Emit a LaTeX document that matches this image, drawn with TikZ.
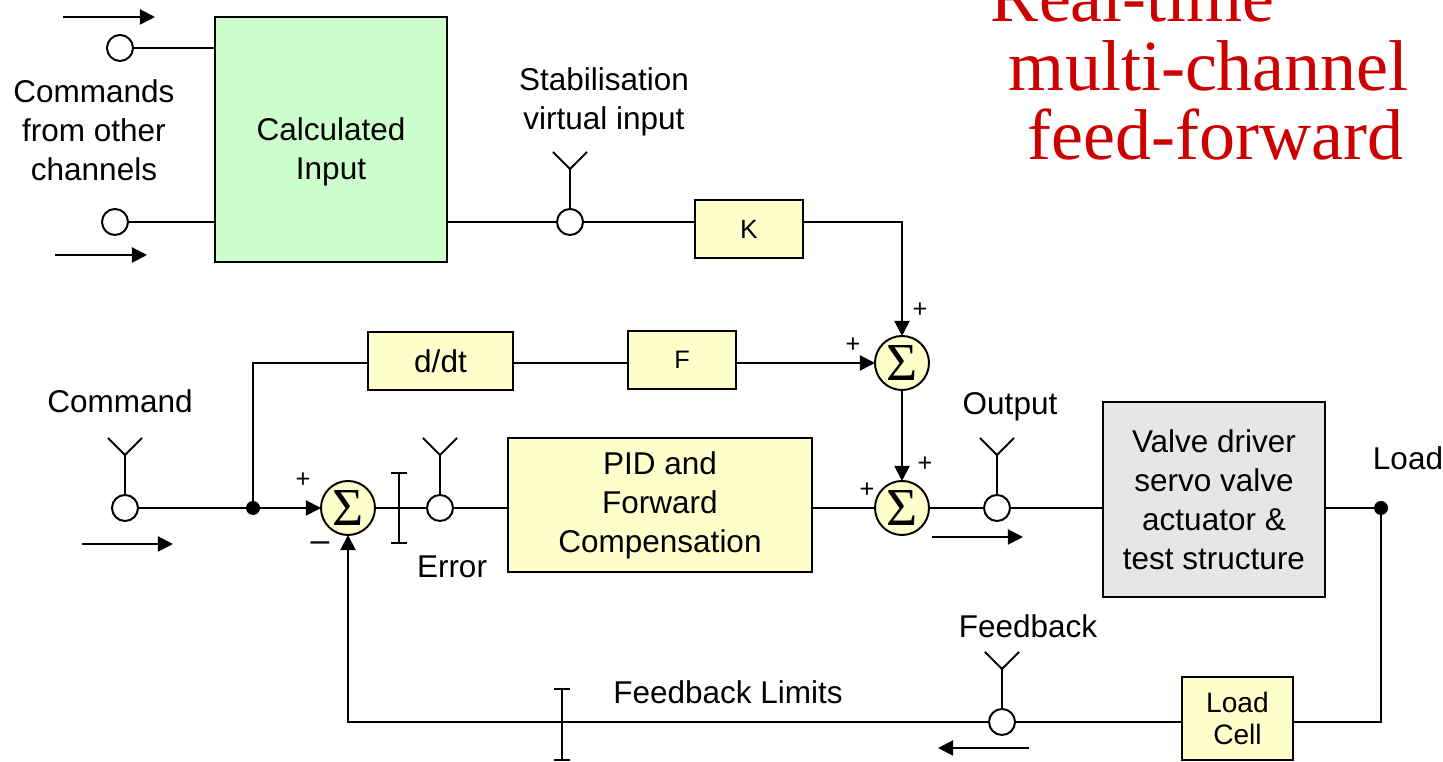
\documentclass[tikz,border=0pt]{standalone}
\usepackage{fontspec}
\setmainfont{Liberation Sans}
\newfontfamily\titlefont{Liberation Serif}
\usepackage{tikz}
\usetikzlibrary{arrows.meta}
\definecolor{boxyellow}{HTML}{FFFFCC}
\definecolor{boxgreen}{HTML}{CCFFCC}
\definecolor{boxgrey}{HTML}{E6E6E6}
\definecolor{titlered}{HTML}{CC0000}

\begin{document}
\begin{tikzpicture}[x=0.0125cm,y=-0.0125cm,line width=0.7pt,font=\fontsize{11.2}{13.9}\selectfont]
\useasboundingbox (0,0) rectangle (1443,762);

\tikzstyle{block}=[draw,outer sep=0pt,fill=boxyellow,align=center,inner sep=0pt]
\tikzstyle{summer}=[draw,circle,outer sep=0pt,fill=boxyellow,minimum size=0.675cm,inner sep=0pt,font=\titlefont\fontsize{19}{19}\selectfont]
\tikzstyle{term}=[draw,circle,outer sep=0pt,fill=white,minimum size=0.325cm,inner sep=0pt]
\tikzstyle{tapdot}=[fill,circle,outer sep=0pt,minimum size=0.175cm,inner sep=0pt]
\tikzstyle{arr}=[-{Triangle[length=0.19cm,width=0.19cm]}]
\tikzstyle{limit}=[{Bar[width=0.2cm]}-{Bar[width=0.2cm]}]
\tikzstyle{signlbl}=[inner sep=0pt,font=\fontsize{9}{9}\selectfont]

   %title
\node (title1) [anchor=base west,inner sep=0pt,text=titlered,font=\titlefont\fontsize{25.6}{24.5}\selectfont] at (990,22) {Real-time};
\node (title2) [anchor=base west,inner sep=0pt,text=titlered,font=\titlefont\fontsize{25.6}{24.5}\selectfont] at (1008,91) {multi-channel};
\node (title3) [anchor=base west,inner sep=0pt,text=titlered,font=\titlefont\fontsize{25.6}{24.5}\selectfont] at (1027,160) {feed-forward};

    %blocks
\node (calc) [block,fill=boxgreen,minimum width=2.9cm,minimum height=3.0625cm,label={[align=center,yshift=-0.16cm]center:{Calculated\\Input}}] at (331,139.5) {};
\node (kbox) [block,minimum width=1.35cm,minimum height=0.725cm,font=\fontsize{9.4}{11}\selectfont] at (749,229) {K};
\node (ddt) [block,minimum width=1.8125cm,minimum height=0.725cm] at (440.5,361) {d/dt};
\node (fbox) [block,minimum width=1.35cm,minimum height=0.725cm,font=\fontsize{9}{11}\selectfont] at (682,360) {F};
\node (pid) [block,minimum width=3.8cm,minimum height=1.675cm] at (660,505) {PID and\\Forward\\Compensation};
\node (valve) [block,fill=boxgrey,minimum width=2.775cm,minimum height=2.4375cm] at (1214,499.5) {Valve driver\\servo valve\\actuator \&\\test structure};
\node (lcell) [block,minimum width=1.3875cm,minimum height=1.0375cm,font=\fontsize{10}{11.4}\selectfont] at (1237.5,718.5) {Load\\Cell};

    %summing junctions
\node (s0) [summer] at (348,508) {\raisebox{-1.2pt}{Σ}};
\node (s1) [summer] at (902,363) {\raisebox{-1.2pt}{Σ}};
\node (s2) [summer] at (902,508) {\raisebox{-1.2pt}{Σ}};

    %terminals and taps
\node (in1) [term] at (120,48) {};
\node (in2) [term] at (115,222) {};
\node (stab) [term] at (570,222) {};
\node (cmd) [term] at (125,508) {};
\node (err) [term] at (440,508) {};
\node (outp) [term] at (997,508) {};
\node (fb) [term] at (1002,722) {};
\node (jn) [tapdot] at (253,508) {};
\node (ld) [tapdot] at (1381,508) {};

\foreach \t in {stab,cmd,err,outp,fb}
  \draw (\t.north) --++(0,-40) coordinate (tip) --++(-17,-17) (tip) --++(17,-17);

    %labels
\node (lbl_cmds) [align=center] at (94,130) {Commands\\from other\\channels};
\node (lbl_stab) [align=center] at (604,102) {Stabilisation\\virtual input};
\node (lbl_cmd) at (120,401) {Command};
\node (lbl_err) at (452,567) {Error};
\node (lbl_out) at (1010,407) {Output};
\node (lbl_load) at (1408,458) {Load};
\node (lbl_fb) at (1028,626) {Feedback};
\node (lbl_lim) at (728,692) {Feedback Limits};

\node (p0) [signlbl] at (303,480) {+};
\node (m0) [signlbl,font=\fontsize{12}{12}\selectfont] at (320,547) {\textendash};
\node (p1a) [signlbl] at (920,310) {+};
\node (p1b) [signlbl] at (853,345) {+};
\node (p2a) [signlbl] at (925,464) {+};
\node (p2b) [signlbl] at (867,490) {+};

    %connections
\draw (in1) -- (in1 -| calc.west);
\draw (in2) -- (in2 -| calc.west);
\draw (calc.east |- stab) -- (stab);
\draw (stab) -- (stab -| kbox.west);
\draw[arr] (stab -| kbox.east) -| (s1.north);
\draw (jn) |- (s1 -| ddt.west);
\draw (s1 -| ddt.east) -- (s1 -| fbox.west);
\draw[arr] (s1 -| fbox.east) -- (s1.west);
\draw[arr] (s1) -- (s2);
\draw (cmd) -- (jn);
\draw[arr] (jn) -- (s0);
\draw (s0) -- (err);
\draw (err) -- (err -| pid.west);
\draw (err -| pid.east) -- (s2);
\draw (s2) -- (outp);
\draw (outp) -- (outp -| valve.west);
\draw (outp -| valve.east) -- (ld);
\draw (ld) |- (fb -| lcell.east);
\draw (fb -| lcell.west) -- (fb);
\draw[arr] (fb) -| (s0.south);

    %limits
\draw[limit] (399,472) -- (399,544);
\draw[limit] (562,688) -- (562,761);

    %signal direction
\draw[arr] (63,17) -- (155,17);
\draw[arr] (55,255) -- (147,255);
\draw[arr] (82,544) -- (173,544);
\draw[arr] (932,537) -- (1023,537);
\draw[arr] (1029,748) -- (938,748);
\end{tikzpicture}
\end{document}
